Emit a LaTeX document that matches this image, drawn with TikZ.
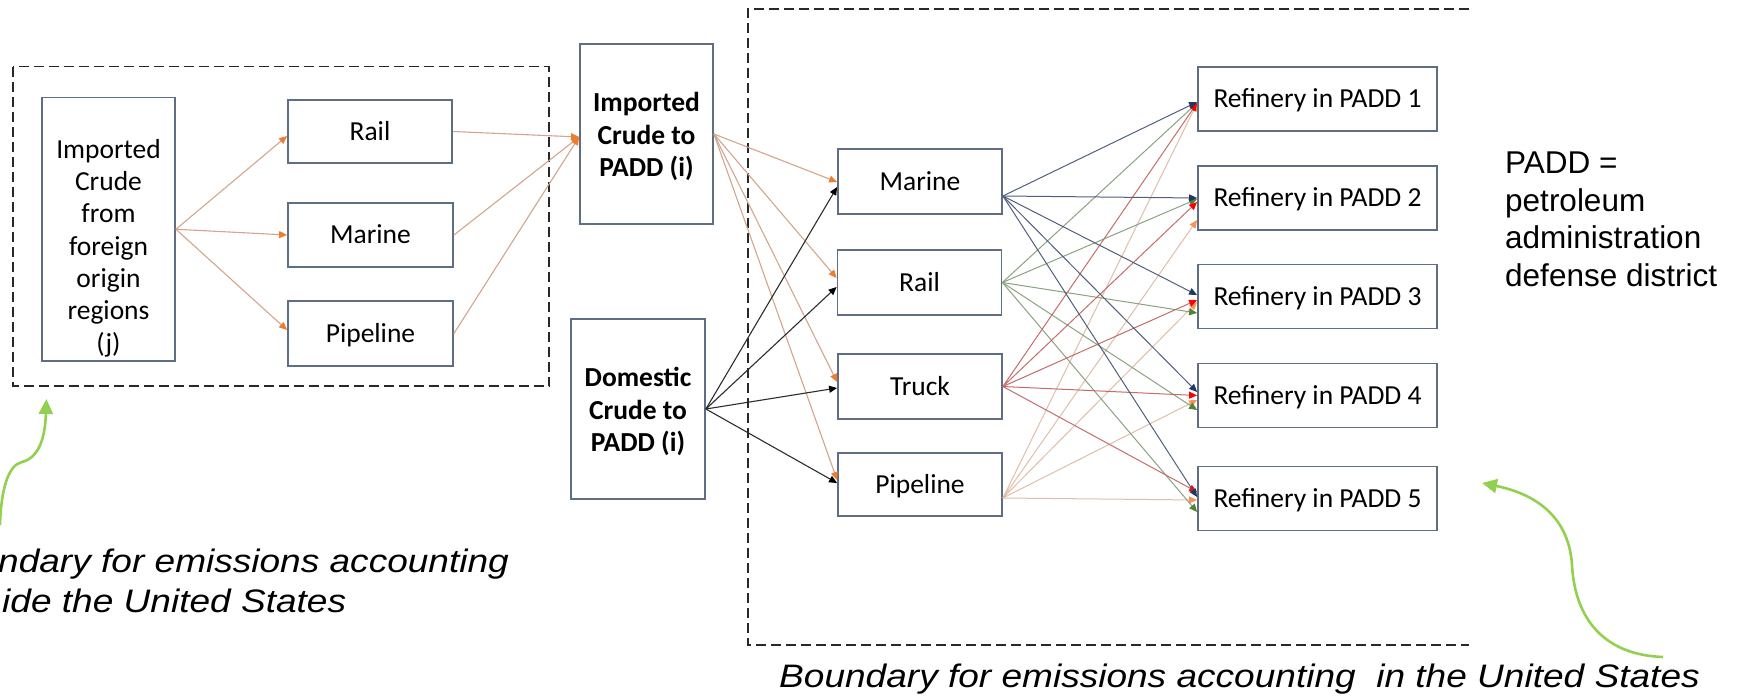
\documentclass[tikz,border=0pt]{standalone}
\usepackage{fontspec}
\usepackage{graphicx}
\setmainfont{Carlito}
\newfontfamily\notefont{Liberation Sans}
\usetikzlibrary{arrows.meta,calc}

\definecolor{boxline}{RGB}{95,110,130}
\definecolor{frameline}{RGB}{40,40,40}
\definecolor{impline}{RGB}{210,165,140}
\definecolor{imphead}{RGB}{237,125,49}
\definecolor{domline}{RGB}{45,45,45}
\definecolor{domhead}{RGB}{0,0,0}
\definecolor{marline}{RGB}{80,95,122}
\definecolor{marhead}{RGB}{31,56,100}
\definecolor{railline}{RGB}{138,162,128}
\definecolor{railhead}{RGB}{84,130,53}
\definecolor{truckline}{RGB}{196,108,108}
\definecolor{truckhead}{RGB}{255,0,0}
\definecolor{pipeln}{RGB}{222,190,170}
\definecolor{pipehead}{RGB}{244,150,90}
\definecolor{leaf}{RGB}{146,208,80}

% stacked lines whose first baseline is the box baseline
\newcommand\boxlines[1]{\begin{tabular}[t]{@{}c@{}}#1\end{tabular}}
\newcommand\notelines[1]{\begin{tabular}[t]{@{}l@{}}#1\end{tabular}}
\newcommand\widen[1]{\scalebox{1.14}[1]{#1}}

\begin{document}
\begin{tikzpicture}[x=1pt,y=-1pt,
  box/.style={draw=boxline, line width=1.8pt, inner sep=0pt, font=\fontsize{27.5}{32.3}\selectfont},
  one/.style={text height=17.7pt, text depth=0pt},
  frame/.style={draw=frameline, line width=1.3pt, dash pattern=on 10pt off 5pt},
  impflow/.style={draw=impline, line width=1.1pt, -{Triangle[length=8pt,width=7pt,color=imphead]}},
  domflow/.style={draw=domline, line width=1.1pt, -{Triangle[length=8pt,width=7pt,color=domhead]}},
  marflow/.style={draw=marline, line width=1pt, -{Triangle[length=8pt,width=7pt,color=marhead]}},
  railflow/.style={draw=railline, line width=1pt, -{Triangle[length=8pt,width=7pt,color=railhead]}},
  truckflow/.style={draw=truckline, line width=1pt, -{Triangle[length=8pt,width=7pt,color=truckhead]}},
  pipeflow/.style={draw=pipeln, line width=1pt, -{Triangle[length=8pt,width=7pt,color=pipehead]}},
  leafarrow/.style={draw=leaf, line width=2.6pt, -{Triangle[length=15pt,width=14pt,color=leaf]}},
  note/.style={inner sep=0pt, anchor=base west, font=\notefont\itshape\fontsize{32.5}{38}\selectfont},
]
\useasboundingbox (0,0) rectangle (1738,696);
\clip (0,0) rectangle (1738,696);

% accounting boundaries
\draw[frame] (13,66.5) rectangle (549,386);
\draw[frame] (1469,9) -- (748,9) -- (748,645) -- (1469,645);

% foreign leg
\node[box, minimum width=133pt, minimum height=263.5pt, text height=0pt, text depth=142pt] (origin) at (108.5,229.25)
  {\boxlines{Imported\\Crude\\from\\foreign\\origin\\regions\\(j)}};
\node[box, one, minimum width=164pt, minimum height=63pt] (lrail) at (370,131.5) {Rail};
\node[box, one, minimum width=165pt, minimum height=64pt] (lmarine) at (370.5,235) {Marine};
\node[box, one, minimum width=165pt, minimum height=65pt] (lpipe) at (370.5,333.5) {Pipeline};

% crude entering a PADD
\node[box, font=\fontsize{27.5}{32.3}\selectfont\bfseries, minimum width=133pt, minimum height=180pt, text height=0pt, text depth=44.6pt] (imp) at (646.5,134)
  {\boxlines{Imported\\Crude to\\PADD (i)}};
\node[box, font=\fontsize{27.5}{32.3}\selectfont\bfseries, minimum width=134pt, minimum height=180pt, text height=0pt, text depth=44.6pt] (dom) at (638,409)
  {\boxlines{Domestic\\Crude to\\PADD (i)}};

% domestic transport modes
\node[box, one, minimum width=164pt, minimum height=65pt] (mmarine) at (920,181.5) {Marine};
\node[box, one, minimum width=164pt, minimum height=65pt] (mrail) at (919.5,282.5) {Rail};
\node[box, one, minimum width=164pt, minimum height=65pt] (mtruck) at (920,386.5) {Truck};
\node[box, one, minimum width=164pt, minimum height=63pt] (mpipe) at (920,484.5) {Pipeline};

% refineries
\node[box, one, minimum width=239pt, minimum height=64pt] (r1) at (1317.5,99) {Refinery in PADD 1};
\node[box, one, minimum width=239pt, minimum height=64pt] (r2) at (1317.5,198) {Refinery in PADD 2};
\node[box, one, minimum width=239pt, minimum height=64pt] (r3) at (1317.5,296.5) {Refinery in PADD 3};
\node[box, one, minimum width=239pt, minimum height=64pt] (r4) at (1317.5,395.5) {Refinery in PADD 4};
\node[box, one, minimum width=239pt, minimum height=64pt] (r5) at (1317.5,498.5) {Refinery in PADD 5};

% foreign flows
\draw[impflow] (origin.east) -- ($(lrail.west)+(0,4.5)$);
\draw[impflow] (origin.east) -- (lmarine.west);
\draw[impflow] (origin.east) -- ($(lpipe.west)+(0,-3.5)$);
\draw[impflow] (lrail.east) -- ($(imp.west)+(0,3)$);
\draw[impflow] (lmarine.east) -- ($(imp.west)+(0,3)$);
\draw[impflow] (lpipe.east) -- ($(imp.west)+(0,3)$);

% crude into domestic modes
\draw[impflow] (imp.east) -- ($(mmarine.west)+(0,0.5)$);
\draw[impflow] (imp.east) -- ($(mrail.west)+(0,-4.5)$);
\draw[impflow] (imp.east) -- ($(mtruck.west)+(0,-4.5)$);
\draw[impflow] (imp.east) -- ($(mpipe.west)+(0,-4.5)$);
\draw[domflow] (dom.east) -- ($(mmarine.west)+(0,5.5)$);
\draw[domflow] (dom.east) -- ($(mrail.west)+(0,4.5)$);
\draw[domflow] (dom.east) -- ($(mtruck.west)+(0,1.5)$);
\draw[domflow] (dom.east) -- ($(mpipe.west)+(0,-1.5)$);

% modes to refineries
\draw[pipeflow] ($(mpipe.east)+(0,13.5)$) -- ($(r1.west)+(0,4)$);
\draw[pipeflow] ($(mpipe.east)+(0,13.5)$) -- ($(r2.west)+(0,22)$);
\draw[pipeflow] ($(mpipe.east)+(0,13.5)$) -- ($(r3.west)+(0,5.5)$);
\draw[pipeflow] ($(mpipe.east)+(0,13.5)$) -- ($(r4.west)+(0,4.5)$);
\draw[pipeflow] ($(mpipe.east)+(0,13.5)$) -- ($(r5.west)+(0,1.5)$);

\draw[railflow] (mrail.east) -- ($(r1.west)+(0,4)$);
\draw[railflow] (mrail.east) -- ($(r2.west)+(0,1)$);
\draw[railflow] (mrail.east) -- ($(r3.west)+(0,16.5)$);
\draw[railflow] (mrail.east) -- ($(r4.west)+(0,14.5)$);
\draw[railflow] (mrail.east) -- ($(r5.west)+(0,13.5)$);

\draw[truckflow] (mtruck.east) -- ($(r1.west)+(0,4)$);
\draw[truckflow] (mtruck.east) -- ($(r2.west)+(0,4)$);
\draw[truckflow] (mtruck.east) -- ($(r3.west)+(0,3.5)$);
\draw[truckflow] (mtruck.east) -- (r4.west);
\draw[truckflow] (mtruck.east) -- ($(r5.west)+(0,-6.5)$);

\draw[marflow] ($(mmarine.east)+(0,14.5)$) -- ($(r1.west)+(0,3)$);
\draw[marflow] ($(mmarine.east)+(0,14.5)$) -- (r2.west);
\draw[marflow] ($(mmarine.east)+(0,14.5)$) -- ($(r3.west)+(0,-1.5)$);
\draw[marflow] ($(mmarine.east)+(0,14.5)$) -- ($(r4.west)+(0,-3.5)$);
\draw[marflow] ($(mmarine.east)+(0,14.5)$) -- ($(r5.west)+(0,-1.5)$);

% legend
\node[inner sep=0pt, anchor=base west, font=\notefont\fontsize{31.5}{37.8}\selectfont] (padd) at (1505,173.3)
  {\notelines{PADD =\\petroleum\\administration\\defense district}};

% boundary labels
\node[note] (usnote) at (779,687) {\widen{Boundary for emissions accounting~ in the United States}};
\node[note] (fornote1) at (-2,572) {\widen{ndary for emissions accounting}};
\node[note] (fornote2) at (2,612) {\widen{ide the United States}};

\coordinate (lt-tail) at (0,525);
\coordinate (lt-tip) at (46.4,399);
\draw[leafarrow] (lt-tail) .. controls (1,490) and (8,465) .. (22,462) .. controls (38,458) and (45,440) .. (lt-tip);

\coordinate (rt-tail) at (1663,657);
\coordinate (rt-tip) at (1482,483);
\draw[leafarrow] (rt-tail) .. controls (1605,655) and (1575,620) .. (1572,565) .. controls (1569,520) and (1540,495) .. (rt-tip);
\end{tikzpicture}
\end{document}
